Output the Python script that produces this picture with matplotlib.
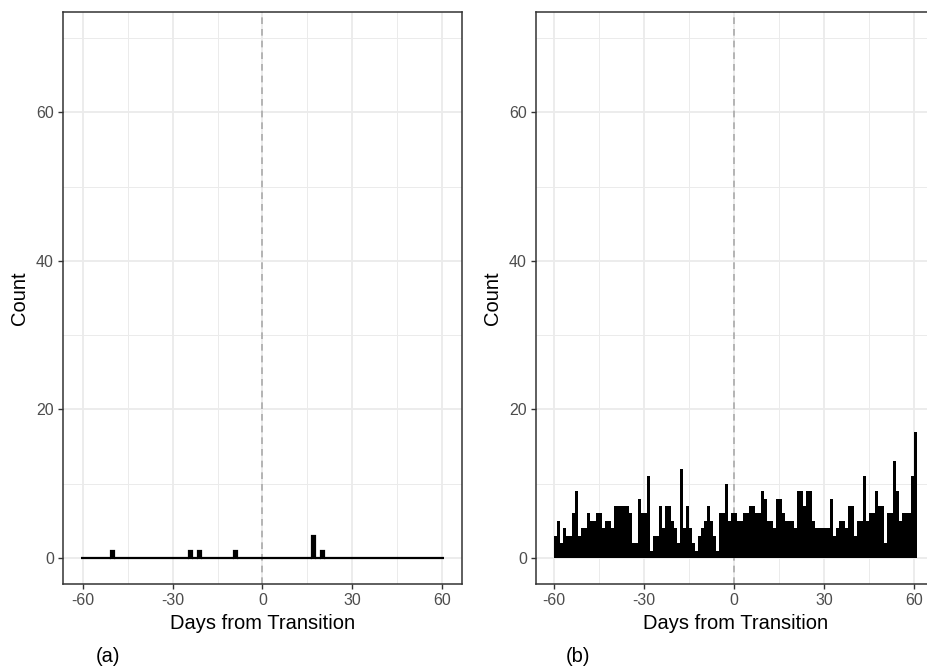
import matplotlib
matplotlib.use("Agg")
import matplotlib.pyplot as plt
import numpy as np

plt.rcParams['font.family'] = ['Liberation Sans', 'DejaVu Sans']
plt.rcParams['axes.unicode_minus'] = False

# ---- data ----
days = list(range(-60, 61))

# panel (a): sparse counts
a_days = [-50, -24, -21, -9, 17, 20]
a_counts = [1, 1, 1, 1, 3, 1]

# panel (b): daily counts, day -60 .. 60
b_counts = [
    3, 5, 2, 4, 3, 3, 6, 9, 3, 4,      # -60 .. -51
    4, 6, 5, 5, 6, 6, 4, 5, 5, 4,      # -50 .. -41
    7, 7, 7, 7, 7, 6, 2, 2, 8, 6,      # -40 .. -31
    6, 11, 1, 3, 3, 7, 4, 7, 7, 5,     # -30 .. -21
    4, 2, 12, 4, 7, 4, 2, 1, 3, 4,     # -20 .. -11
    5, 7, 5, 3, 1, 6, 6, 10, 5, 6,     # -10 .. -1
    6, 5, 5, 6, 6, 7, 7, 6, 6, 9,      # 0 .. 9
    8, 5, 5, 4, 8, 8, 6, 5, 5, 5,      # 10 .. 19
    4, 9, 9, 7, 9, 9, 5, 4, 4, 4,      # 20 .. 29
    4, 4, 8, 3, 4, 5, 5, 4, 7, 7,      # 30 .. 39
    3, 5, 5, 11, 5, 6, 6, 9, 7, 7,     # 40 .. 49
    2, 6, 6, 13, 9, 5, 6, 6, 6, 11,    # 50 .. 59
    17,                                # 60
]

a_full = [0] * len(days)
for d, c in zip(a_days, a_counts):
    a_full[days.index(d)] = c

x_ticks = [-60, -30, 0, 30, 60]
y_ticks = [0, 20, 40, 60]
x_label = "Days from Transition"
y_label = "Count"
panel_tags = ["(a)", "(b)"]

# ---- figure ----
W, H = 928, 668
fig = plt.figure(figsize=(W / 100, H / 100), dpi=100)

ax_w = 399 / W
ax_b = (668 - 584) / H
ax_h = 572 / H
ax_a = fig.add_axes([63 / W, ax_b, ax_w, ax_h])
ax_bb = fig.add_axes([536 / W, ax_b, ax_w, ax_h])

border = '#333333'
gridc = '#EBEBEB'

def style(ax, xlim):
    ax.set_xlim(*xlim)
    ax.set_ylim(-3.5, 73.5)
    ax.set_xticks(x_ticks)
    ax.set_yticks(y_ticks)
    ax.set_xticks([-45, -15, 15, 45], minor=True)
    ax.set_yticks([10, 30, 50, 70], minor=True)
    ax.grid(True, which='major', color=gridc, linewidth=1.3, zorder=0)
    ax.grid(True, which='minor', color=gridc, linewidth=0.7, zorder=0)
    ax.set_axisbelow(True)
    for s in ax.spines.values():
        s.set_color(border)
        s.set_linewidth(1.1)
    ax.tick_params(which='major', length=3.5, width=1.0, color=border,
                   labelsize=11.5, labelcolor='#4D4D4D', pad=3)
    ax.tick_params(which='minor', length=0)
    ax.set_xlabel(x_label, fontsize=14.5, labelpad=4)
    ax.set_ylabel(y_label, fontsize=14.5, labelpad=5)
    ax.axvline(0, color='#AAAAAA', linewidth=1.2, linestyle=(0, (4, 3)), zorder=1)

# panel (a)
ax_a.bar(days, a_full, width=1.0, color='black', edgecolor='black',
         linewidth=1.6, zorder=2)
style(ax_a, (-66.55, 66.55))

# panel (b)
ax_bb.bar(days, b_counts, width=1.0, align='edge', color='black',
          edgecolor='none', zorder=2)
style(ax_bb, (-66.05, 67.05))

fig.text(108 / W, 1 - 656 / H, panel_tags[0], fontsize=14.5, ha='center', va='center')
fig.text(578 / W, 1 - 656 / H, panel_tags[1], fontsize=14.5, ha='center', va='center')

fig.savefig("out.png", dpi=100)
